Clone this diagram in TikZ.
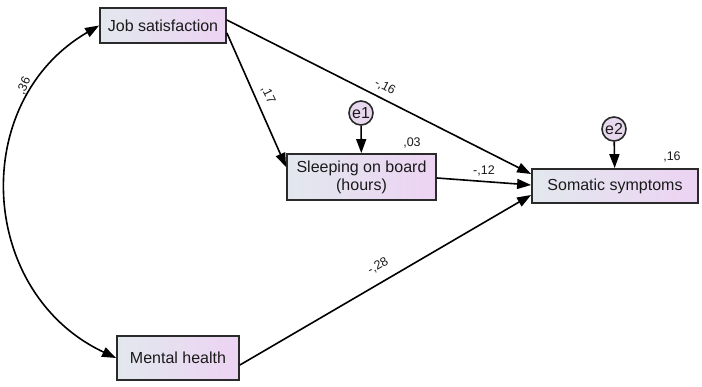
\documentclass[tikz,border=0pt]{standalone}
\usepackage{fontspec}
\setmainfont{Liberation Sans}
\usetikzlibrary{arrows.meta,calc}
\definecolor{boxL}{HTML}{E2E8EE}
\definecolor{boxR}{HTML}{EDD3F3}
\definecolor{errF}{HTML}{E8D8EE}
\definecolor{ink}{HTML}{1A1A1A}
\definecolor{edge}{HTML}{2A2A2A}
\tikzset{
  obs/.style={draw=edge, line width=1.8pt, left color=boxL, right color=boxR, inner sep=0pt,
    font=\fontsize{16}{18}\selectfont, text=ink, align=center},
  err/.style={circle, draw=edge, line width=1.6pt, fill=errF, minimum size=24pt, inner sep=0pt,
    font=\fontsize{16}{18}\selectfont, text=ink},
  path/.style={draw=black, line width=1.6pt, -{Triangle[length=14pt,width=10pt]}},
  coef/.style={font=\fontsize{12.5}{14}\selectfont, text=ink, inner sep=0pt}
}
\begin{document}
\begin{tikzpicture}[x=1pt,y=-1pt]
\useasboundingbox (0,0) rectangle (702,387);
\node[obs, minimum width=126pt, minimum height=35pt] (job) at (163,25.5) {Job satisfaction};
\node[obs, minimum width=149pt, minimum height=46pt] (sleep) at (361.5,177) {Sleeping on board\\(hours)};
\node[obs, minimum width=166pt, minimum height=34pt] (som) at (615,186) {Somatic symptoms};
\node[obs, minimum width=122pt, minimum height=44pt] (ment) at (178,358) {Mental health};
\node[err] (e1) at (361,113) {e1};
\node[err] (e2) at (614,129) {e2};

\draw[path] (e1) -- (sleep);
\draw[path] (e2) -- (som);
\draw[path] ([yshift=-7.5pt]job.east) -- ([yshift=10pt]sleep.west);
\draw[path] ([yshift=5.5pt]job.east) -- ([yshift=12pt]som.west);
\draw[path] ([yshift=-1pt]sleep.east) -- ([yshift=1pt]som.west);
\draw[path] ([yshift=-7pt]ment.east) -- ([yshift=-9pt]som.west);
\draw[draw=black, line width=1.6pt, {Triangle[length=14pt,width=10pt]}-{Triangle[length=14pt,width=10pt]}]
  (job.west) .. controls (-32,102) and (-22,293) .. (ment.west);

\node[coef, rotate=65] (c36) at (24,86) {,36};
\node[coef, rotate=-64] (c17) at (268,95) {,17};
\node[coef, rotate=-28] (c16a) at (385,87) {-,16};
\node[coef] (c12) at (484,171) {-,12};
\node[coef, rotate=30] (c28) at (378,266) {-,28};
\node[coef] (r03) at (412,143) {,03};
\node[coef] (r16) at (672,157) {,16};
\end{tikzpicture}
\end{document}
